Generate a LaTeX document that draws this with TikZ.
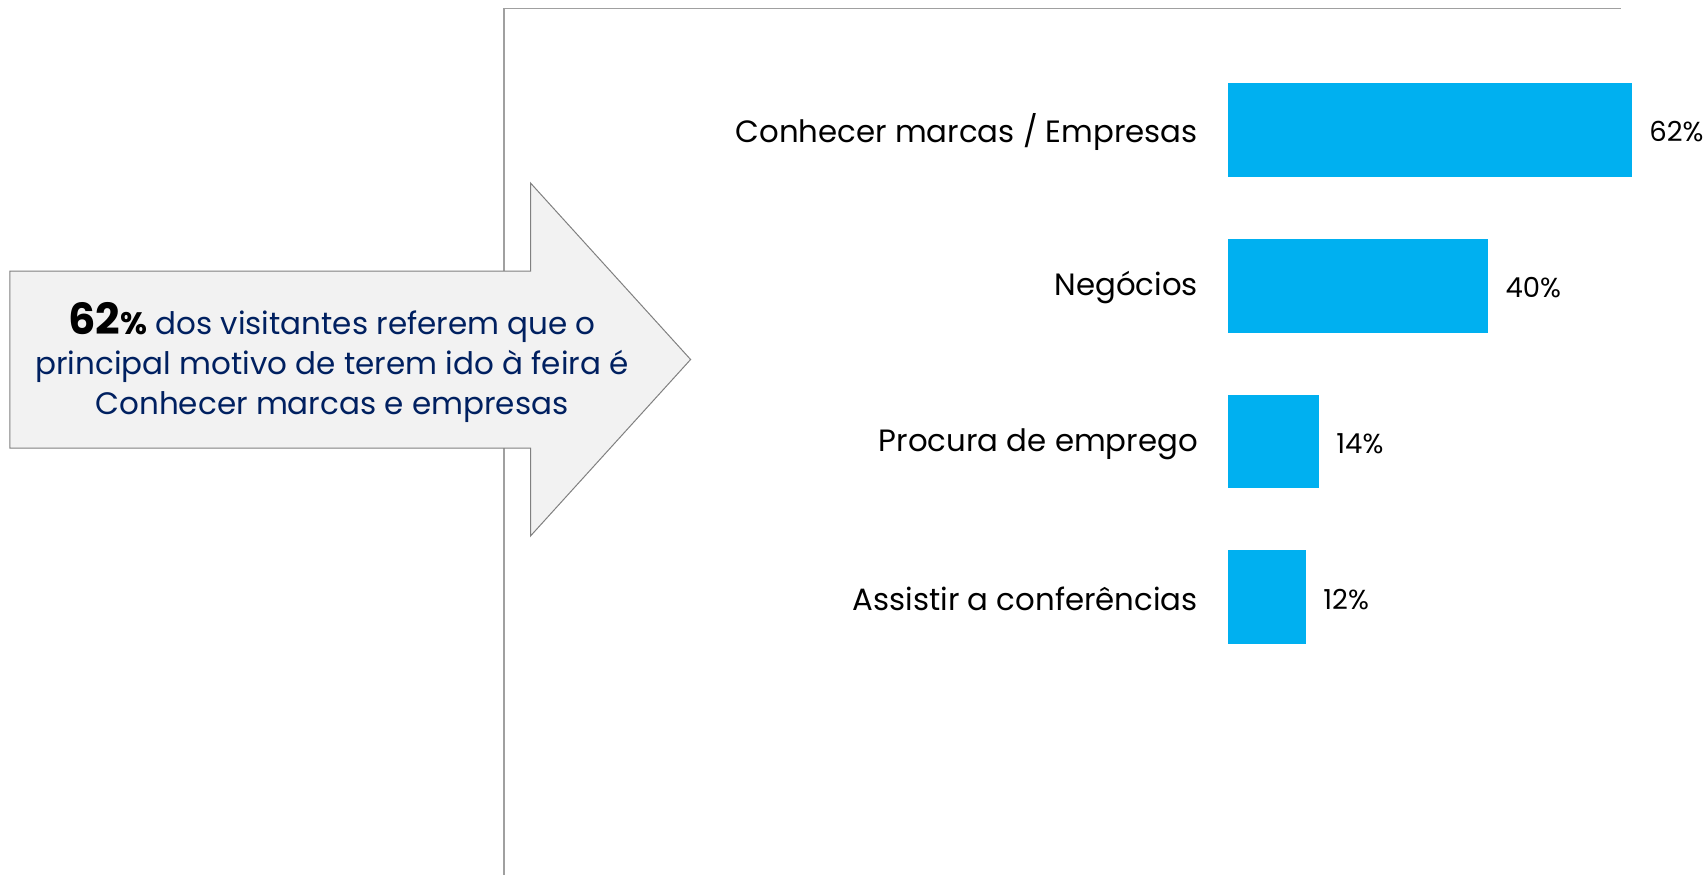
\documentclass[tikz,border=0pt]{standalone}
\usepackage{fontspec}
\setmainfont{Poppins}
\definecolor{barblue}{HTML}{00B0F0}
\definecolor{navy}{HTML}{002060}
\definecolor{framegray}{HTML}{A0A0A0}
\definecolor{arrowfill}{HTML}{F2F2F2}
\definecolor{arrowline}{HTML}{808080}
\begin{document}
\begin{tikzpicture}[x=1pt,y=-1pt,
  bar/.style={fill=barblue,draw=none,inner sep=0pt,anchor=north west,minimum height=93.7pt},
  catlabel/.style={anchor=east,inner sep=0pt,font=\fontsize{30.8}{36}\selectfont,text=black},
  vallabel/.style={anchor=west,inner sep=0pt,font=\fontsize{27.5}{32}\selectfont,text=black}]
\useasboundingbox (0,0) rectangle (1708,875);
% frame
\coordinate (fb) at (504,875);
\coordinate (fc) at (504,8.7);
\coordinate (fr) at (1621,8.7);
\draw[framegray,line width=1.5pt] (fb) -- (fc) -- (fr);
% arrow
\draw[arrowline,fill=arrowfill,line width=1pt]
  (9.8,271) -- (530.5,271) -- (530.5,183) -- (690.6,359.5) -- (530.5,536) -- (530.5,448) -- (9.8,448) -- cycle;
\node[align=center,text=navy,font=\fontsize{31}{40}\selectfont,inner sep=0pt] (msg) at (332,362)
  {{\color{black}\fontsize{43}{40}\selectfont\bfseries 62}{\color{black}\bfseries\%} dos visitantes referem que o\\
   principal motivo de terem ido à feira é\\
   Conhecer marcas e empresas};
% bars
\node[bar,minimum width=404.2pt] (b1) at (1227.6,82.8) {};
\node[bar,minimum width=260.4pt] (b2) at (1227.6,238.6) {};
\node[bar,minimum width=91.2pt] (b3) at (1227.6,394.3) {};
\node[bar,minimum width=78.2pt] (b4) at (1227.6,550) {};
% category labels
\node[catlabel] (l1) at (1198,132) {Conhecer marcas / Empresas};
\node[catlabel] (l2) at (1198,288) {Negócios};
\node[catlabel] (l3) at (1198,444) {Procura de emprego};
\node[catlabel] (l4) at (1198,599) {Assistir a conferências};
% value labels
\node[vallabel] (v1) at ([xshift=17pt,yshift=-2pt]b1.east) {62\%};
\node[vallabel] (v2) at ([xshift=17pt,yshift=-2pt]b2.east) {40\%};
\node[vallabel] (v3) at ([xshift=17pt,yshift=-2pt]b3.east) {14\%};
\node[vallabel] (v4) at ([xshift=17pt,yshift=-2pt]b4.east) {12\%};
\end{tikzpicture}
\end{document}
